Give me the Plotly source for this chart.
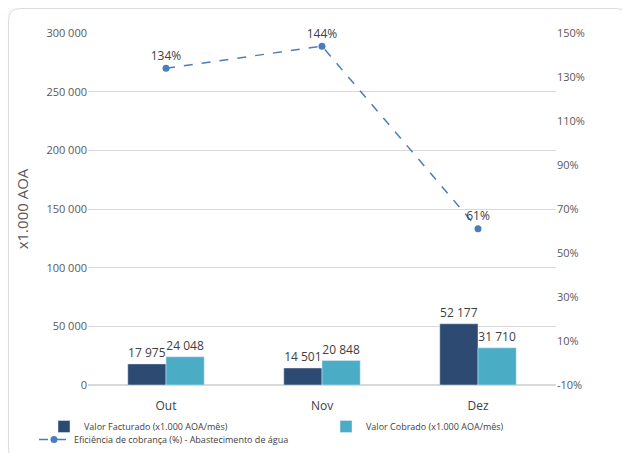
import plotly.graph_objects as go

categories = ["Out", "Nov", "Dez"]
valor_facturado = [17975, 14501, 52177]
valor_cobrado = [24048, 20848, 31710]
eficiencia = [134, 144, 61]
pct_tick_values = [-10, 10, 30, 50, 70, 90, 110, 130, 150]
pct_tick_labels = ["-10%", "10%", "30%", "50%", "70%", "90%", "110%", "130%", "150%"]

W, H = 622, 445
L, R, T, B = 80, 74, 25, 68
pw, ph = W - L - R, H - T - B

def px(x):
    return (x - L) / pw

def py(y):
    return (H - B - y) / ph

fig = go.Figure()
fig.add_trace(go.Bar(
    x=categories, y=valor_facturado, name="Valor Facturado (x1.000 AOA/mês)",
    marker_color="#2c4a72", texttemplate="%{y:,d}", textposition="outside",
    textfont=dict(size=12, color="#404040"), cliponaxis=False, legend="legend"))
fig.add_trace(go.Bar(
    x=categories, y=valor_cobrado, name="Valor Cobrado (x1.000 AOA/mês)",
    marker_color="#4bacc6", texttemplate="%{y:,d}", textposition="outside",
    textfont=dict(size=12, color="#404040"), cliponaxis=False, legend="legend2"))
fig.add_trace(go.Scatter(
    x=categories, y=eficiencia, yaxis="y2", mode="lines+markers+text",
    name="Eficiência de cobrança (%) - Abastecimento de água",
    line=dict(color="#4a7ebb", width=1.5, dash="dash"),
    marker=dict(size=7, color="#4a7ebb"),
    text=[f"{v}%" for v in eficiencia], textposition="top center",
    textfont=dict(size=12, color="#404040"), cliponaxis=False, legend="legend3"))

# card background
x0, y0, x1, y1, r = px(0.5), py(0.5), px(619.5), py(452), 12
rx, ry = r / pw, r / ph
path = (f"M {x0+rx},{y0} L {x1-rx},{y0} Q {x1},{y0} {x1},{y0-ry} "
        f"L {x1},{y1+ry} Q {x1},{y1} {x1-rx},{y1} L {x0+rx},{y1} "
        f"Q {x0},{y1} {x0},{y1+ry} L {x0},{y0-ry} Q {x0},{y0} {x0+rx},{y0} Z")
fig.add_shape(type="path", path=path, xref="paper", yref="paper",
              fillcolor="white", line=dict(color="#d9dde3", width=1), layer="below")

legfont = dict(size=9, color="#404040", family="Open Sans, sans-serif")

def leg(xpix, ypix):
    return dict(orientation="h", x=px(xpix), y=py(ypix), xanchor="left", yanchor="top",
                font=legfont, bgcolor="rgba(0,0,0,0)", itemwidth=30)

fig.update_layout(
    width=W, height=H, margin=dict(l=L, r=R, t=T, b=B, autoexpand=False),
    paper_bgcolor="#f5f9fd", plot_bgcolor="rgba(0,0,0,0)",
    separators=", ",
    font=dict(family="Open Sans, Liberation Sans, sans-serif", color="#595959", size=11),
    barmode="group", bargap=0.51, bargroupgap=0,
    showlegend=True,
    legend=leg(36, 404),
    legend2=leg(318, 404),
    legend3=leg(26, 417),
    xaxis=dict(showgrid=False, showline=False, ticks="", ticklabelstandoff=12,
               tickfont=dict(size=12, color="#404040")),
    yaxis=dict(range=[0, 300000], dtick=50000, tickformat=",d", showgrid=True,
               gridcolor="#d9d9d9", zeroline=True, zerolinecolor="#d9d9d9",
               showline=False, ticks="", tickfont=dict(size=11, color="#595959"),
               title=dict(text="x1.000 AOA", font=dict(size=15, color="#595959"), standoff=14)),
    yaxis2=dict(range=[-10, 150], tickmode="array", tickvals=pct_tick_values,
                ticktext=pct_tick_labels, overlaying="y",
                side="right", showgrid=False, zeroline=False, showline=False, ticks="",
                tickfont=dict(size=11, color="#595959")),
)

fig.write_html("out.html")
